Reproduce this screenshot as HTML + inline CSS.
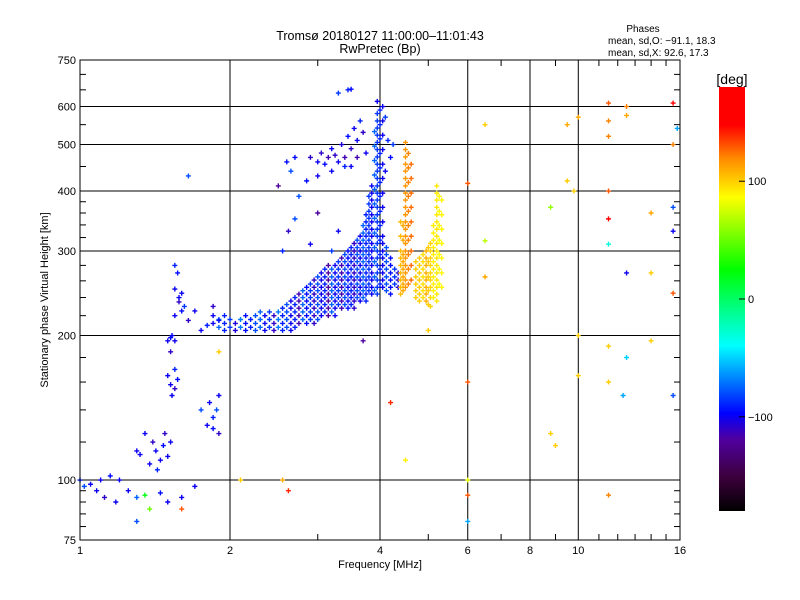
<!DOCTYPE html>
<html><head><meta charset="utf-8"><style>
body{margin:0;background:#fff;}
svg{display:block;font-family:"Liberation Sans",sans-serif;}
</style></head><body>
<svg id="chart" width="800" height="600" viewBox="0 0 800 600">
<defs>
<linearGradient id="cb" x1="0" y1="0" x2="0" y2="1">
<stop offset="0" stop-color="#ff0000"/><stop offset="0.09" stop-color="#ff0000"/>
<stop offset="0.17" stop-color="#ff8c00"/><stop offset="0.26" stop-color="#ffff00"/>
<stop offset="0.43" stop-color="#00ff00"/><stop offset="0.61" stop-color="#00ffff"/>
<stop offset="0.77" stop-color="#0000ff"/><stop offset="0.83" stop-color="#5000a0"/>
<stop offset="0.92" stop-color="#3c003c"/><stop offset="1" stop-color="#000000"/>
</linearGradient>
</defs>
<text x="380" y="40" text-anchor="middle" font-size="12.5">Tromsø 20180127 11:00:00–11:01:43</text>
<text x="380" y="53" text-anchor="middle" font-size="12.5">RwPretec (Bp)</text>
<text x="643" y="32" text-anchor="middle" font-size="10">Phases</text>
<text x="608" y="44" font-size="10">mean, sd,O: −91.1, 18.3</text>
<text x="608" y="56" font-size="10">mean, sd,X:  92.6, 17.3</text>
<g id="grid"></g>
<g id="ticks"></g>
<g id="marks"></g>
<rect x="80" y="60" width="600" height="480" fill="none" stroke="#000" stroke-width="1"/>
<text x="380" y="568" text-anchor="middle" font-size="11">Frequency [MHz]</text>
<text transform="translate(48,300) rotate(-90)" text-anchor="middle" font-size="11">Stationary phase Virtual Height [km]</text>
<rect x="719" y="87" width="26" height="424" fill="url(#cb)"/>
<text x="732" y="84" text-anchor="middle" font-size="14">[deg]</text>
<g id="cbticks"></g>
</svg>
<script>
const xTicks=[1,2,4,6,8,10,16];
const xMinor=[3,5,7,9,11,12,13,14,15];
const yTicks=[75,100,200,300,400,500,600,750];
const yGrid=[100,200,300,400,500,600];
const yMinor=[80,85,90,95,120,140,160,180,220,240,260,280,320,340,360,380,450,550,650,700];
const xGridVals=[2,4,6,8,10];
const cbLabels=[100,0,-100];
// column groups: [freq, phase, heights...]
const oBand=[
[1.85,-100,212,220],[1.95,-90,205,212,220],[2.05,-105,205,212],[2.15,-95,205,212,220],
[2.25,-80,205,212,220],[2.35,-100,205,212,220],[2.45,-110,205,212,220],[2.55,-90,205,212,220,228],
[2.65,-100,205,212,220,228,236],[2.75,-115,212,220,228,236,244],[2.85,-95,212,220,228,236,244,252],
[2.95,-110,212,220,228,236,244,252,261],[3.05,-100,220,228,236,244,252,261,270],
[3.15,-120,220,228,236,244,252,261,270,280],[3.25,-100,220,228,236,244,252,261,270,280],
[3.35,-115,228,236,244,252,261,270,280,290],[3.45,-95,228,236,244,252,261,270,280,290,300],
[3.55,-110,228,236,244,252,261,270,280,290,300,311],[3.65,-100,236,244,252,261,270,280,290,300,311,322],
[3.75,-90,236,244,252,261,270,280,290,300,311,322,333,345,357],
[3.85,-100,244,252,261,270,280,290,300,311,322,333,345,357,370,383,396,410],
[3.95,-85,244,252,261,270,280,290,300,311,322,333,345,357,370,383,396,410,425,440,455,471,488,505,523,541,560,580],
[4.05,-100,252,261,270,280,290,300,311,322,345,370,396,425,455,488,523,560,600],
[4.2,-95,244,252,261,270,280,290],[4.35,-105,252,261,270],
[1.9,-75,208,216],[2.0,-85,208,216],[2.1,-70,208,216],[2.2,-90,208,216],[2.3,-75,208,216,224],[2.4,-85,208,216,224],[2.5,-70,208,216,224],[2.6,-80,208,216,224,232],[2.7,-90,208,216,224,232,240],[2.8,-75,216,224,232,240,248],[2.9,-85,216,224,232,240,248,256],[3.0,-80,216,224,232,240,248,256,265],[3.1,-90,224,232,240,248,256,265,275],[3.2,-75,224,232,240,248,256,265,275],[3.3,-85,232,240,248,256,265,275,285],[3.4,-80,232,240,248,256,265,275,285,295],[3.5,-90,232,240,248,256,265,275,285,295,305],[3.6,-80,240,248,256,265,275,285,295,305,316],[3.7,-75,240,248,256,265,275,285,295,305,316,327,339],[3.8,-85,248,256,265,275,285,295,305,316,327,339,351,363,376,390],[3.9,-75,248,265,285,305,327,351,376,403,432,463,496,532],[4.0,-90,256,275,295,316,339,363,390,417,447,479,514,550,590],[4.12,-80,248,256,265,275,285,295,305],[4.28,-85,256,265,275]
];
const xBand=[
[4.4,105,244,252,261,270,280,290,300,322,345],
[4.5,115,252,261,270,280,290,300,311,322,333,345,357,370,383,396,410,425,440,455,471,488,505],
[4.62,125,261,280,300,322,345,370,396,425,455],
[4.8,100,236,244,252,261,270,280,290],[4.95,108,236,244,252,261,270,280,290,300],
[5.05,98,230,240,252,261,270,280,290,300,311],
[5.2,92,236,244,252,261,270,280,290,300,311,322,333,345,357,370,383,396,410],
[5.32,88,252,270,290,311,333,357,383],
[4.45,110,248,256,265,275,285,295,316,339],[4.56,120,256,275,295,316,339,363,390,417,447,479],[4.72,100,240,248,256,265,275,285],[4.88,95,240,248,256,265,275,285,295],[5.0,100,232,248,265,285,305],[5.12,90,240,248,256,265,275,285,295,305,316,327,339],[5.26,85,256,275,295,316,339,363,390]
];
const scatter=[
[2.9,470,-110],[3.0,460,-100],[3.05,480,-110],[3.1,455,-95],[3.15,470,-115],[3.2,490,-100],[3.25,475,-110],[3.3,460,-100],[3.35,500,-105],[3.4,470,-115],[3.45,520,-95],[3.5,490,-110],[3.55,540,-100],[3.6,510,-100],[3.65,560,-90],[3.7,530,-110],[3.2,440,-100],[3.4,450,-90],[3.0,430,-100],[2.85,420,-95],[3.5,450,-100],[3.75,480,-100],[3.6,470,-115],[3.3,640,-85],[3.45,650,-90],[3.5,652,-95],[3.95,615,-100],[4.1,570,-85],[4.15,510,-90],[4.2,470,-95],[4.25,500,-85],[4.1,440,-100],[2.6,460,-95],[2.65,440,-80],[2.5,410,-120],[2.75,390,-80],[1.65,430,-80],[2.7,470,-95],
[2.55,300,-90],[2.62,330,-110],[2.7,350,-80],[2.9,310,-100],[3.0,360,-120],[3.2,300,-85],[3.3,330,-100],
[1.55,280,-90],[1.57,270,-95],[1.55,250,-100],[1.6,245,-100],[1.58,235,-110],[1.6,225,-95],[1.55,220,-100],[1.62,230,-85],[1.53,200,-100],[1.5,195,-100],[1.52,185,-110],[1.58,240,-100],[1.65,215,-110],[1.7,225,-100],[1.75,205,-100],[1.8,210,-90],[1.9,215,-95],[1.85,230,-110],
[1.5,165,-100],[1.52,158,-100],[1.55,155,-110],[1.57,162,-95],[1.55,170,-90],[1.53,150,-100],[1.52,198,-95],[1.55,195,-100],
[1.8,130,-100],[1.85,135,-90],[1.88,140,-80],[1.9,125,-110],[1.85,128,-95],[1.75,140,-80],[1.82,145,-100],[1.9,150,-100],
[1.3,115,-100],[1.32,113,-100],[1.4,120,-110],[1.42,115,-100],[1.45,110,-100],[1.47,118,-95],[1.5,112,-100],[1.38,108,-100],[1.43,105,-90],[1.48,125,-110],[1.52,120,-100],[1.35,125,-100],
[1.0,100,-90],[1.02,97,-80],[1.05,98,-100],[1.08,95,-100],[1.1,100,-100],[1.15,102,-95],[1.2,100,-100],[1.12,92,-110],[1.18,90,-100],[1.25,95,-100],[1.3,92,-75],[1.45,94,-95],[1.5,90,-100],[1.6,92,-100],[1.7,97,-100],[1.35,93,20],[1.38,87,50],
[6.0,93,130],[6.0,415,130],[6.0,160,130],[6.5,550,100],[6.5,315,70],[6.5,265,110],[6.0,82,-60],[8.8,370,60],[8.8,125,100],[9.0,118,100],[9.5,550,110],[9.5,420,100],[9.8,400,100],[10,200,100],[10,165,100],[10,570,110],[11.5,610,130],[11.5,560,120],[11.5,520,120],[11.5,400,130],[11.5,350,150],[11.5,310,-30],[11.5,190,100],[11.5,160,100],[12.5,600,120],[12.5,575,110],[12.5,270,-100],[12.5,180,-50],[12.3,150,-60],[11.5,93,120],[14.0,360,110],[14.0,270,100],[14.0,195,100],[15.5,610,160],[15.5,500,120],[15.5,330,-100],[15.5,245,130],[15.5,150,-80],[15.5,370,-80],[15.8,540,-60],[5.0,205,100],[3.7,195,-120],[4.2,145,140],[4.5,110,90],[6,100,80],[1.9,185,100],[2.55,100,110],[2.62,95,140],[2.1,100,100],[1.6,87,130],[1.3,82,-80]
];
const NS="http://www.w3.org/2000/svg";
const X=f=>80+600*Math.log(f)/Math.log(16);
const Y=h=>540-480*Math.log10(h/75);
const C=p=>511-(p+180)/360*424;
const stops=[[-180,[0,0,0]],[-147,[60,0,60]],[-119,[80,0,160]],[-97,[0,0,255]],[-40,[0,255,255]],[25,[0,255,0]],[86,[255,255,0]],[118,[255,140,0]],[148,[255,0,0]],[180,[255,0,0]]];
function color(p){for(let i=1;i<stops.length;i++){if(p<=stops[i][0]){const a=stops[i-1],b=stops[i],t=(p-a[0])/(b[0]-a[0]);return 'rgb('+a[1].map((v,k)=>Math.round(v+(b[1][k]-v)*t)).join(',')+')';}}return 'rgb(255,0,0)';}
function el(tag,attrs,parent){const e=document.createElementNS(NS,tag);for(const k in attrs)e.setAttribute(k,attrs[k]);parent.appendChild(e);return e;}
const grid=document.getElementById('grid'),ticks=document.getElementById('ticks'),marks=document.getElementById('marks'),cbt=document.getElementById('cbticks');
xGridVals.forEach(v=>{const l=el('line',{x1:X(v),x2:X(v),y1:60,y2:540,stroke:'#000'},grid);

});
yGrid.forEach(v=>{const l=el('line',{x1:80,x2:680,y1:Y(v),y2:Y(v),stroke:'#000'},grid);

});
xTicks.forEach(v=>{const t=el('text',{x:X(v),y:554,'text-anchor':'middle','font-size':11},ticks);t.textContent=v;

});
xMinor.forEach(v=>{el('line',{x1:X(v),x2:X(v),y1:540,y2:534,stroke:'#000'},ticks);el('line',{x1:X(v),x2:X(v),y1:60,y2:66,stroke:'#000'},ticks);});
yTicks.forEach(v=>{const t=el('text',{x:76,y:Y(v)+4,'text-anchor':'end','font-size':11},ticks);t.textContent=v;

});
yMinor.forEach(v=>{el('line',{x1:80,x2:86,y1:Y(v),y2:Y(v),stroke:'#000'},ticks);el('line',{x1:674,x2:680,y1:Y(v),y2:Y(v),stroke:'#000'},ticks);});
cbLabels.forEach(v=>{el('line',{x1:739,x2:745,y1:C(v),y2:C(v),stroke:'#000'},cbt);const t=el('text',{x:748,y:C(v)+4,'font-size':11},cbt);t.textContent=(v<0?'−':'')+Math.abs(v);

});
function plus(f,h,p){const x=X(f),y=Y(h),c=color(p);
const g=el('path',{d:`M${x-2.5} ${y}h5M${x} ${y-2.5}v5`,stroke:c,'stroke-width':1.4,fill:'none'},marks);

}
[...oBand,...xBand].forEach(g=>{for(let i=2;i<g.length;i++)plus(g[0],g[i],g[1]);});
scatter.forEach(d=>plus(d[0],d[1],d[2]));
</script>
</body></html>
